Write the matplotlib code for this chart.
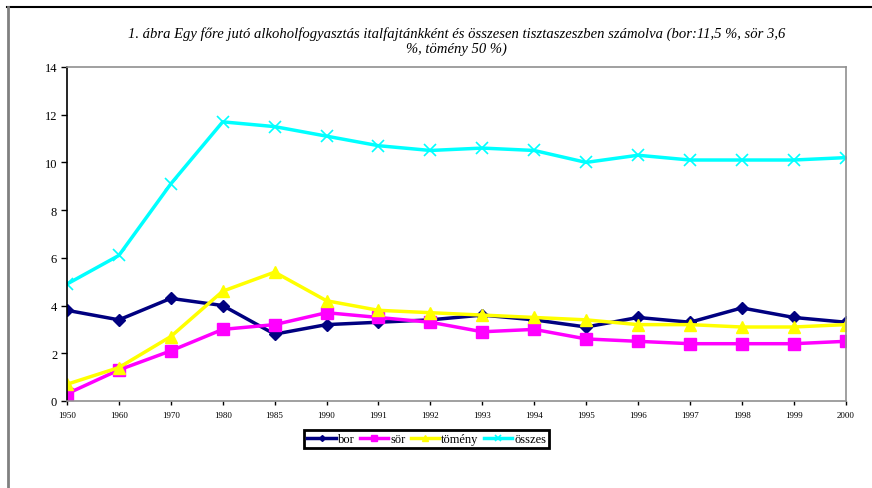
import matplotlib
matplotlib.use('Agg')
import matplotlib.pyplot as plt
from matplotlib.lines import Line2D

# Data
years = ['1950', '1960', '1970', '1980', '1985', '1990', '1991', '1992',
         '1993', '1994', '1995', '1996', '1997', '1998', '1999', '2000']
bor = [3.8, 3.4, 4.3, 4.0, 2.8, 3.2, 3.3, 3.4, 3.6, 3.4, 3.1, 3.5, 3.3, 3.9, 3.5, 3.3]
sor = [0.3, 1.3, 2.1, 3.0, 3.2, 3.7, 3.5, 3.3, 2.9, 3.0, 2.6, 2.5, 2.4, 2.4, 2.4, 2.5]
tomeny = [0.7, 1.4, 2.7, 4.6, 5.4, 4.2, 3.8, 3.7, 3.6, 3.5, 3.4, 3.2, 3.2, 3.1, 3.1, 3.2]
osszes = [4.9, 6.1, 9.1, 11.7, 11.5, 11.1, 10.7, 10.5, 10.6, 10.5, 10.0, 10.3, 10.1, 10.1, 10.1, 10.2]

plt.rcParams['font.family'] = ['Liberation Serif', 'DejaVu Serif']

fig = plt.figure(figsize=(8.72, 4.89), dpi=100)
ax = fig.add_axes([0.0768, 0.178, 0.893, 0.683])

x = list(range(len(years)))
ax.plot(x, bor, color='#000080', lw=2.5, marker='D', ms=6, label='bor')
ax.plot(x, sor, color='#FF00FF', lw=2.5, marker='s', ms=8, label='sör')
ax.plot(x, tomeny, color='#FFFF00', lw=2.5, marker='^', ms=9, label='tömény')
ax.plot(x, osszes, color='#00FFFF', lw=2.5, marker='x', ms=8, mew=1.2, label='összes')

ax.set_xlim(0, 15)
ax.set_ylim(0, 14)
ax.set_yticks(range(0, 15, 2))
ax.set_xticks(x)
ax.set_xticklabels(years, fontsize=6.5)
ax.tick_params(axis='y', labelsize=9, length=4, width=1, direction='out', pad=3)
ax.tick_params(axis='x', length=3, width=1, direction='out', pad=4)

for s in ['top', 'right', 'bottom']:
    ax.spines[s].set_color('#909090')
    ax.spines[s].set_linewidth(1.2)
ax.spines['left'].set_color('black')
ax.spines['left'].set_linewidth(1.2)

ax.set_title('1. ábra Egy főre jutó alkoholfogyasztás italfajtánkként és összesen tisztaszeszben számolva (bor:11,5 %, sör 3,6\n%, tömény 50 %)',
             fontsize=10.5, style='italic', pad=11, linespacing=1.15)

leg = ax.legend(loc='center', bbox_to_anchor=(0.462, -0.114), ncol=4, fontsize=9,
                frameon=True, fancybox=False, framealpha=1, edgecolor='black',
                handlelength=2.3, handletextpad=0.15, columnspacing=0.4,
                borderpad=0.25, borderaxespad=0, markerscale=0.5)
leg.get_frame().set_linewidth(2)

# outer frame of the picture
fig.add_artist(Line2D([7 / 872, 1], [1 - 8 / 489, 1 - 8 / 489], color='black', lw=1.5))
fig.add_artist(Line2D([8 / 872, 8 / 872], [0, 1 - 8 / 489], color='#808080', lw=2))

fig.savefig('out.png', dpi=100)
